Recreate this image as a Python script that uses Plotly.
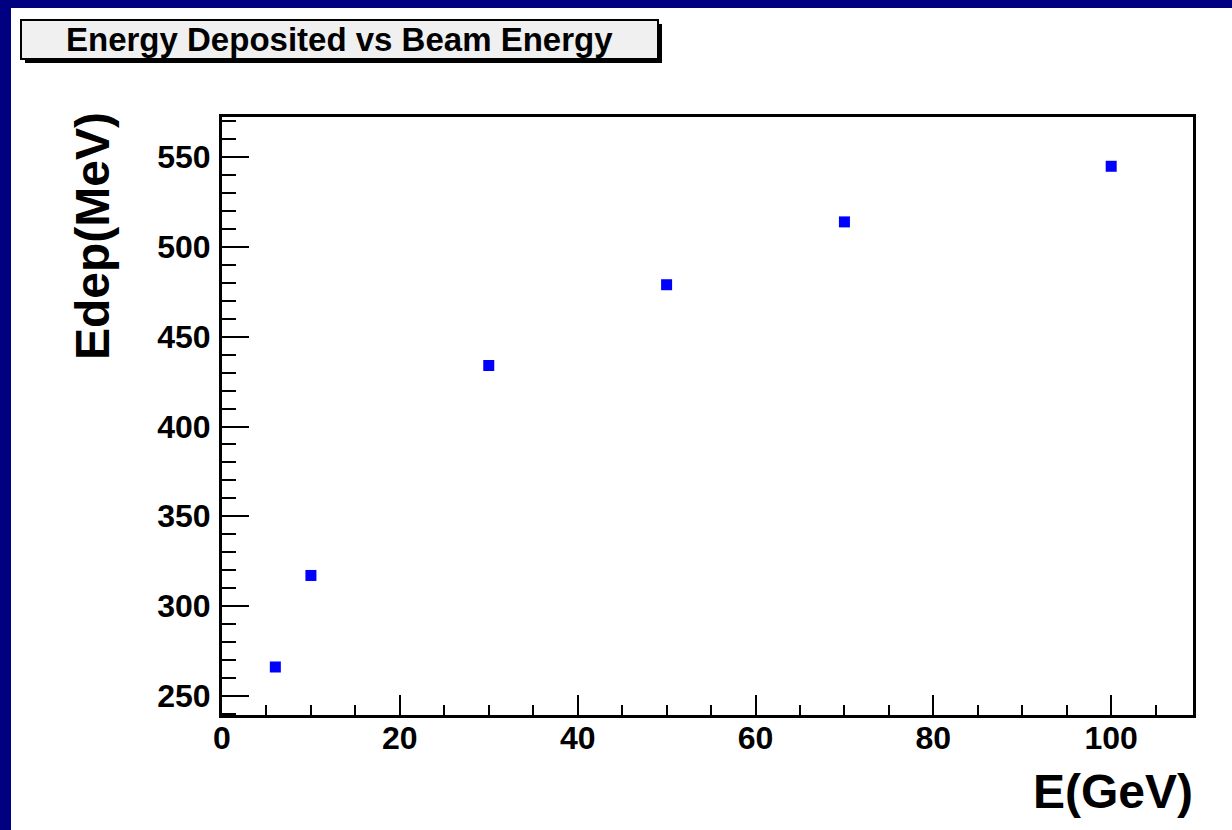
import plotly.graph_objects as go

# ---- data ----
energy_gev = [6, 10, 30, 50, 70, 100]
edep_mev = [266, 317, 434, 479, 514, 545]
chart_title = "Energy Deposited vs Beam Energy"
x_title = "E(GeV)"
y_title = "Edep(MeV)"

W, H = 1232, 830
PL, PR, PT, PB = 222, 1193, 117, 715  # plot-area pixel bounds


def px_x(p):
    return (p - PL) / (PR - PL)


def px_y(p):
    return (PB - p) / (PB - PT)


NAVY = "#000080"
FAM = "Liberation Sans, Arial, sans-serif"
TICKFONT = dict(family=FAM, size=32, color="black", weight="bold")

fig = go.Figure()
fig.add_trace(go.Scatter(
    x=energy_gev, y=edep_mev, mode="markers",
    marker=dict(symbol="square", size=11, color="#0000ff", line=dict(width=0)),
    showlegend=False,
))

axis_common = dict(
    showline=True, linewidth=3, linecolor="black", mirror=True,
    ticks="inside", tickwidth=2, tickcolor="black",
    showgrid=False, zeroline=False, tickfont=TICKFONT,
)
fig.update_xaxes(
    range=[0, 109.2], tick0=0, dtick=20, ticklen=20,
    minor=dict(dtick=5, ticklen=10, tickwidth=2, ticks="inside", tickcolor="black"),
    ticklabelstandoff=-7,
    **axis_common,
)
fig.update_yaxes(
    range=[239.25, 572.45], tick0=250, dtick=50, ticklen=27,
    minor=dict(dtick=10, ticklen=14, tickwidth=2, ticks="inside", tickcolor="black"),
    ticklabelstandoff=2,
    **axis_common,
)

shapes = [
    # navy frame bands (top and left)
    dict(type="rect", xref="paper", yref="paper", x0=px_x(0), x1=px_x(W), y0=px_y(8), y1=px_y(0),
         fillcolor=NAVY, line=dict(width=0), layer="below"),
    dict(type="rect", xref="paper", yref="paper", x0=px_x(0), x1=px_x(11), y0=px_y(H), y1=px_y(0),
         fillcolor=NAVY, line=dict(width=0), layer="below"),
    # title box shadow
    dict(type="rect", xref="paper", yref="paper", x0=px_x(25), x1=px_x(662), y0=px_y(63), y1=px_y(24),
         fillcolor="black", line=dict(width=0)),
    # title box
    dict(type="rect", xref="paper", yref="paper", x0=px_x(21), x1=px_x(658), y0=px_y(59), y1=px_y(20),
         fillcolor="#f0f0f0", line=dict(color="black", width=2)),
]

annotations = [
    dict(text=chart_title, xref="paper", yref="paper", x=px_x(339), y=px_y(40),
         xanchor="center", yanchor="middle", showarrow=False,
         font=dict(family=FAM, size=33, color="black", weight="bold")),
    dict(text=x_title, xref="paper", yref="paper", x=px_x(1195), y=px_y(791),
         xanchor="right", yanchor="middle", showarrow=False,
         font=dict(family=FAM, size=48, color="black", weight="bold")),
    dict(text=y_title, xref="paper", yref="paper", x=px_x(92), y=px_y(236),
         xanchor="center", yanchor="middle", showarrow=False, textangle=-90,
         font=dict(family=FAM, size=48, color="black", weight="bold")),
]

fig.update_layout(
    width=W, height=H,
    margin=dict(l=PL, r=W - PR, t=PT, b=H - PB, pad=0),
    paper_bgcolor="white", plot_bgcolor="white",
    shapes=shapes, annotations=annotations,
)

fig.write_html("out.html")
